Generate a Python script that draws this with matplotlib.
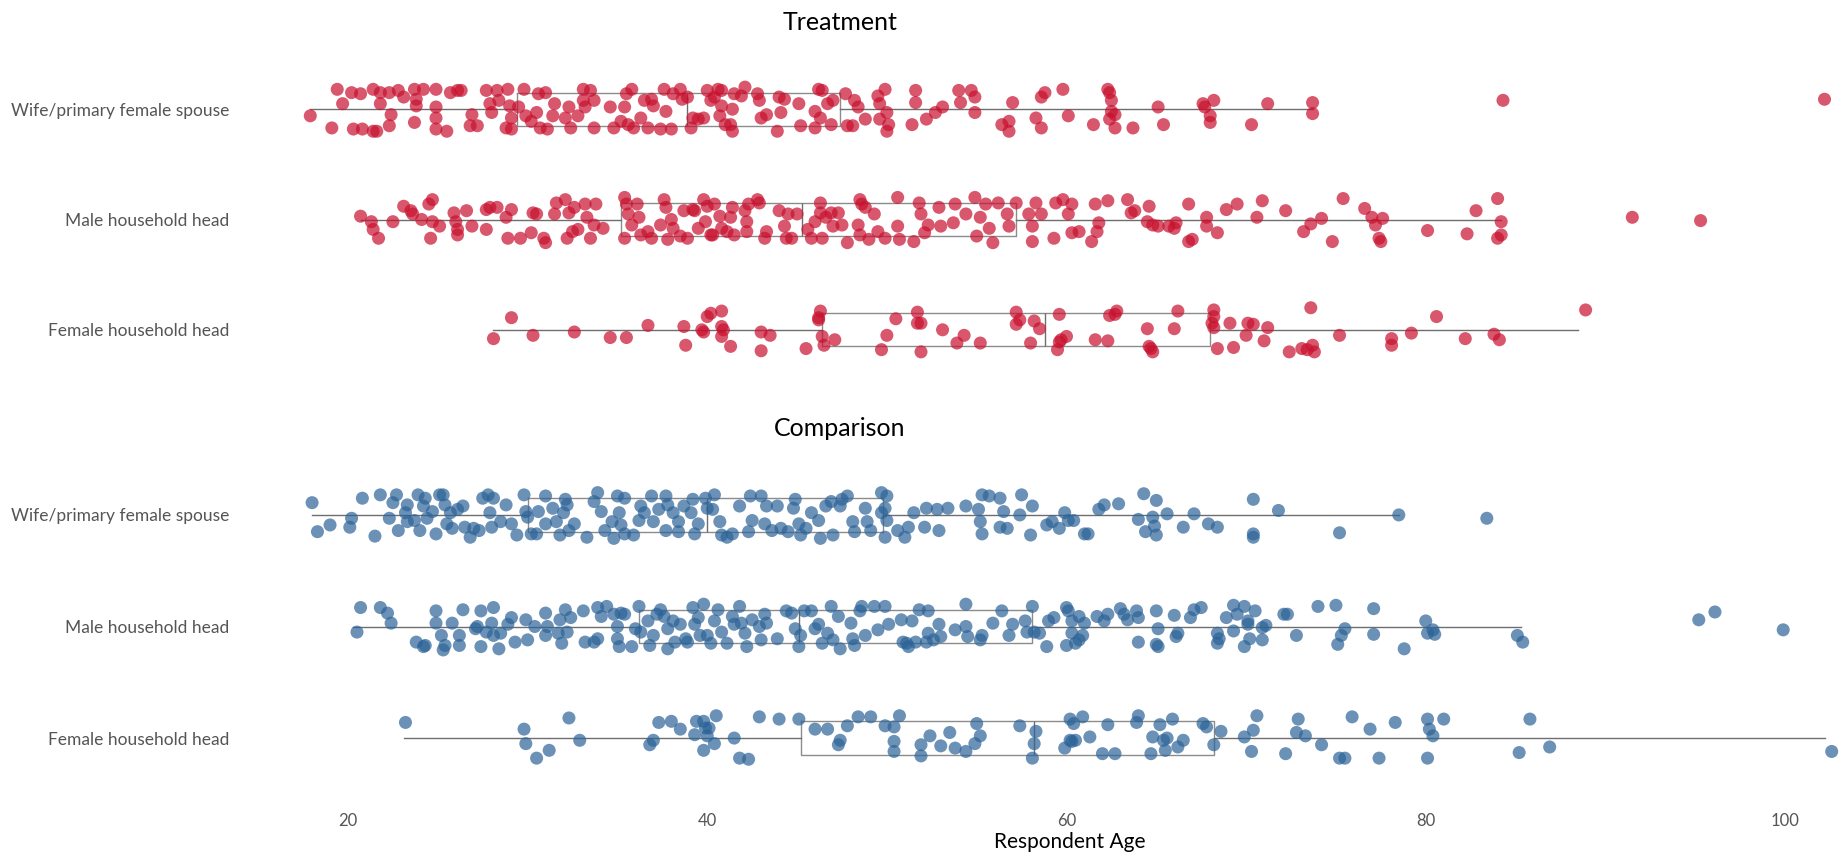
import numpy as np
import matplotlib.pyplot as plt

plt.rcParams['font.family'] = ['Lato', 'DejaVu Sans']

groups = ['Wife/primary female spouse', 'Male household head', 'Female household head']
panels = ['Treatment', 'Comparison']
colors = {'Treatment': '#C8102E', 'Comparison': '#2C6398'}

# (age, vertical jitter in row units)
treat_wife = [
    (17.9, .06), (19.4, -.18), (19.1, .17), (19.7, -.05), (20.2, -.15), (20.3, .18), (20.7, -.14), (20.8, .18),
    (21.4, -.18), (21.4, .20), (21.6, .20), (21.8, -.05), (21.8, -.15), (22.3, .15), (22.3, -.15), (22.4, .05),
    (22.8, -.17), (23.1, -.11), (23.7, -.18), (23.8, -.09), (23.7, .12), (23.8, -.03), (24.2, -.18), (24.9, -.18),
    (24.9, -.02), (24.9, .08), (24.9, .18), (25.5, .20), (25.7, -.15), (26.1, -.17), (26.3, -.17), (26.8, .15),
    (26.9, .05), (27.2, .15), (27.7, -.17), (27.9, -.05), (28.0, .03), (28.3, -.17), (28.4, -.08), (28.8, .17),
    (28.9, -.18), (29.0, -.03), (29.1, .08), (29.1, .18), (29.5, -.02), (29.8, -.18), (29.9, .06), (30.2, .11),
    (30.5, .03), (30.6, -.14), (30.7, .17), (31.0, -.15), (31.1, .18), (31.4, .06), (31.5, -.05), (32.1, .08),
    (32.3, -.02), (32.4, .17), (32.8, .06), (33.1, -.18), (33.1, -.08), (33.2, -.02), (33.5, -.17), (33.7, .17),
    (33.7, -.08), (34.6, -.02), (34.8, .17), (35.2, .11), (35.4, -.02), (35.5, -.14), (35.6, .14), (35.8, -.18),
    (35.9, .17), (36.3, .08), (36.5, -.08), (36.7, .17), (36.9, -.09), (37.0, -.03), (37.4, .18), (37.6, -.18),
    (37.7, .02), (38.0, .18), (38.1, -.14), (38.5, -.18), (38.6, -.09), (38.9, -.11), (39.1, .17), (39.2, .08),
    (39.5, .09), (39.8, .08), (40.0, -.17), (40.2, -.08), (40.4, -.11), (40.6, -.18), (40.8, -.17), (40.8, -.03),
    (40.7, .06), (41.0, .14), (41.3, .14), (41.4, .0), (41.5, -.14), (41.4, .20), (41.9, -.12), (42.1, -.20),
    (42.8, -.14), (42.9, -.08), (43.0, .08), (43.3, .05), (43.9, .20), (44.0, -.11), (44.1, .03), (44.3, -.09),
    (45.1, -.05), (45.2, .15), (46.0, .02), (46.2, -.18), (46.4, -.17), (46.3, .08), (46.0, .17), (46.7, -.05),
    (46.9, .14), (47.0, -.08), (47.7, -.14), (47.8, .15), (48.1, .15), (48.2, -.08), (48.4, -.02), (48.8, .09),
    (49.5, -.12), (49.6, -.05), (49.6, .09), (49.9, -.18), (50.0, .03), (50.1, .14), (50.0, .20), (51.4, .14),
    (51.6, -.17), (51.6, -.06), (52.2, .09), (52.7, .03), (53.1, -.02), (54.0, -.17), (54.1, -.06), (54.7, -.17),
    (54.9, -.11), (54.9, .03), (56.4, .14), (56.8, .11), (56.8, .20), (57.0, -.06), (58.3, .08), (58.6, -.11),
    (58.8, -.15), (58.6, .17), (59.8, -.18), (60.1, .06), (61.5, .14), (62.3, -.18), (62.4, -.15), (62.5, -.08),
    (62.5, .02), (62.7, .05), (62.4, .09), (62.7, .17), (63.7, .17), (65.1, -.02), (65.4, .14), (67.6, -.05),
    (67.7, -.02), (68.2, -.08), (68.0, .06), (68.0, .12), (70.3, .14), (71.2, -.05), (73.7, -.06), (73.7, .04),
    (84.3, -.08), (102.2, -.09)]

treat_male = [
    (20.7, -.03), (21.3, .02), (21.4, .09), (21.7, .17), (22.5, .02), (23.1, -.12), (23.5, -.08), (23.6, -.05),
    (24.1, .0), (24.5, -.14), (24.7, -.18), (24.6, .17), (24.7, .02), (25.1, .06), (25.9, -.06), (26.0, .02),
    (26.1, .09), (26.1, .14), (26.6, -.08), (26.9, .06), (27.7, -.09), (27.7, .09), (27.9, -.11), (28.3, -.11),
    (28.8, -.02), (28.9, .17), (29.1, -.09), (29.6, .17), (30.2, .12), (30.3, -.06), (30.5, -.05), (30.9, .17),
    (31.0, .21), (31.6, -.15), (31.5, -.05), (32.1, -.18), (32.2, .17), (32.3, -.06), (32.5, .11), (32.6, -.11),
    (32.8, .09), (33.2, -.14), (33.3, -.02), (33.5, .17), (33.8, -.14), (33.7, .05), (34.2, .08), (35.4, -.20),
    (35.4, .17), (35.5, -.14), (35.6, -.05), (35.8, .05), (36.1, -.14), (36.2, -.02), (36.3, .14), (36.7, .11),
    (36.9, .17), (37.4, .05), (37.6, -.18), (37.7, -.11), (37.8, .18), (38.0, .0), (38.1, .08), (38.5, .15),
    (38.7, -.08), (38.9, .17), (39.2, -.09), (39.3, -.08), (39.5, .08), (39.8, -.18), (39.9, .02), (40.0, -.12),
    (40.2, .14), (40.3, .14), (40.4, -.14), (40.7, -.03), (40.8, .08), (41.1, .11), (41.3, -.02), (41.4, -.11),
    (41.5, .14), (42.1, -.08), (42.2, .02), (42.2, .11), (42.3, -.14), (42.8, -.18), (42.9, -.15), (43.2, .17),
    (43.3, .11), (44.0, -.08), (44.3, .06), (44.4, .17), (44.5, -.05), (44.7, .17), (45.0, -.05), (45.6, .09),
    (45.8, .17), (46.0, .02), (46.3, -.15), (46.3, -.06), (46.4, .17), (46.6, -.02), (46.9, -.06), (47.0, .06),
    (47.3, -.06), (47.5, .05), (47.8, .21), (48.4, .05), (48.5, -.18), (48.5, .14), (48.6, -.14), (48.8, -.11),
    (49.0, .18), (49.3, -.05), (49.5, .11), (49.9, .17), (50.6, .06), (50.6, -.20), (50.7, .18), (51.5, .20),
    (51.8, -.15), (51.9, -.05), (52.1, .12), (52.3, .05), (52.9, -.11), (53.0, .06), (53.7, .03), (53.8, -.14),
    (54.4, -.05), (54.9, -.20), (55.0, .15), (55.2, -.02), (55.5, -.14), (55.9, .21), (55.7, .08), (56.2, -.15),
    (56.7, -.05), (56.8, .06), (57.2, -.15), (57.9, -.05), (58.1, .06), (58.1, .20), (58.3, -.15), (58.6, -.05),
    (59.4, -.15), (59.3, .17), (59.8, -.18), (60.1, -.05), (60.3, -.14), (60.3, .12), (60.7, .11), (61.4, .20),
    (61.6, -.14), (61.7, .11), (61.8, .03), (62.3, -.17), (63.4, -.18), (63.6, -.06), (63.8, -.08), (64.5, .02),
    (64.6, -.12), (64.8, .05), (65.1, .06), (65.7, .06), (66.1, .03), (66.0, .08), (66.8, -.14), (66.8, .20),
    (67.0, .18), (67.8, -.02), (67.8, .06), (68.4, .12), (68.9, -.09), (69.5, -.14), (70.6, -.02), (70.9, -.17),
    (72.2, -.08), (73.2, .11), (73.6, .04), (74.2, -.01), (74.8, .20), (75.4, -.19), (76.6, -.10), (77.0, -.02),
    (77.2, .05), (77.4, .17), (77.5, .20), (77.6, -.01), (80.1, .10), (82.3, .13), (82.8, -.08), (84.0, -.19),
    (84.2, .02), (84.0, .17), (84.2, .14), (91.5, -.02), (95.3, .01)]

treat_female = [
    (28.1, .08), (29.1, -.11), (30.3, .05), (32.6, .02), (34.6, .07), (35.5, .07), (36.7, -.04), (38.7, -.03),
    (38.8, .14), (39.7, .0), (39.8, .02), (40.0, -.12), (40.2, -.15), (40.8, -.17), (40.8, -.03), (40.9, .0),
    (40.8, .06), (41.3, .15), (43.0, .02), (43.0, .19), (43.5, .05), (45.5, .17), (46.3, -.17), (46.2, -.11),
    (46.2, -.09), (46.4, .06), (46.5, .14), (47.1, .09), (49.7, .18), (50.0, .05), (50.5, -.10), (51.7, -.16),
    (51.7, -.06), (51.9, -.06), (51.9, .20), (53.1, .0), (53.9, .12), (54.3, .05), (55.2, .12), (57.2, -.16),
    (57.2, -.05), (57.4, -.09), (58.0, .12), (58.2, -.08), (58.5, -.01), (59.5, .18), (59.6, -.14), (59.6, .11),
    (59.7, .09), (60.0, .06), (61.6, .09), (62.3, .10), (62.4, -.13), (62.7, -.14), (62.8, -.17), (64.5, -.01),
    (64.6, .15), (64.7, .17), (64.8, .20), (66.0, -.01), (66.2, -.17), (68.2, -.18), (68.2, -.12), (68.1, -.06),
    (68.2, -.02), (68.4, .17), (69.1, -.06), (69.3, .16), (70.0, .05), (70.1, -.06), (70.4, -.05), (71.0, .10),
    (71.2, -.02), (72.4, .20), (73.1, .17), (73.4, .18), (73.6, -.20), (73.7, .14), (73.8, .20), (75.2, .05),
    (78.1, .14), (78.1, .08), (79.2, .03), (80.6, -.12), (82.2, .08), (83.8, .04), (84.1, .09), (88.9, -.18)]

comp_wife = [
    (18.0, -.11), (18.3, .15), (19.0, .09), (20.1, .11), (20.2, .03), (20.8, -.15), (21.5, .19), (21.8, -.18),
    (22.3, .03), (22.5, -.11), (22.7, -.18), (22.8, .14), (23.3, -.09), (23.2, -.02), (23.3, .06), (23.7, .05),
    (23.9, -.18), (24.0, .14), (24.2, -.08), (24.3, -.15), (24.4, .03), (24.7, -.03), (24.9, .17), (25.1, -.18),
    (25.3, -.18), (25.4, -.09), (25.5, .08), (25.7, -.02), (25.8, .12), (26.1, -.05), (26.4, -.08), (26.5, .11),
    (26.8, .20), (27.0, .12), (27.3, .14), (27.5, -.15), (27.8, -.18), (27.9, -.02), (28.0, .11), (28.1, -.15),
    (28.5, .06), (28.8, -.09), (29.1, .08), (29.4, .18), (29.8, -.18), (29.9, -.03), (30.0, .02), (30.2, .17),
    (30.5, .17), (30.6, -.03), (31.0, .08), (31.0, -.17), (31.4, -.06), (31.6, .06), (31.8, .18), (32.0, -.02),
    (32.1, -.14), (32.2, -.09), (32.3, .14), (32.6, .08), (33.3, .20), (33.7, -.12), (33.9, -.20), (34.1, -.03),
    (34.3, .14), (34.7, .06), (34.8, .21), (35.0, -.17), (35.1, -.02), (35.2, .09), (35.4, .17), (35.4, -.15),
    (35.9, .18), (36.2, .05), (36.3, -.08), (36.5, -.02), (36.9, -.17), (37.0, .06), (37.3, -.05), (37.7, -.17),
    (37.7, .14), (37.8, -.09), (38.1, -.02), (38.4, .06), (38.4, .15), (38.7, -.08), (39.1, -.02), (39.2, -.14),
    (39.3, .17), (39.5, .08), (39.9, -.15), (40.0, -.06), (40.3, -.05), (40.4, -.18), (40.7, .06), (40.8, .18),
    (41.1, .20), (41.4, .17), (41.8, -.08), (42.3, .15), (42.4, -.17), (42.5, .05), (43.0, -.17), (43.2, .08),
    (43.3, -.08), (43.6, .14), (43.9, -.08), (44.1, .12), (44.5, .15), (44.8, -.06), (44.9, -.14), (45.1, .08),
    (45.2, .18), (45.5, .12), (45.8, -.02), (46.2, .05), (46.3, .21), (46.6, -.08), (46.9, -.12), (47.0, .18),
    (47.4, -.08), (47.5, -.14), (47.8, -.17), (48.1, .06), (48.2, .15), (48.8, -.06), (48.9, .06), (49.1, .14),
    (49.7, -.20), (49.9, -.06), (49.7, -.02), (49.9, .20), (50.0, -.17), (50.0, .05), (50.6, .14), (51.0, .20),
    (51.2, .11), (51.5, -.02), (52.2, -.06), (52.1, .11), (52.8, -.05), (52.9, .14), (53.4, -.06), (54.4, -.08),
    (55.1, -.05), (55.3, -.18), (55.2, .06), (55.3, .17), (55.7, -.17), (56.3, -.15), (56.3, .11), (56.5, -.03),
    (56.7, .12), (57.4, .0), (57.5, -.18), (58.1, -.08), (58.0, .18), (58.9, .09), (59.2, .06), (59.6, .12),
    (59.9, -.02), (60.1, .05), (60.4, .05), (61.0, .17), (61.2, .17), (61.8, -.05), (62.1, -.09), (62.9, -.10),
    (64.0, .04), (64.3, -.19), (64.4, .15), (64.8, .02), (64.9, .10), (65.0, -.13), (65.0, .18), (65.6, -.01),
    (66.5, .11), (67.1, -.01), (67.9, .08), (68.4, .11), (70.4, -.14), (70.4, .17), (70.4, .20), (71.8, -.04),
    (75.2, .16), (78.5, .0), (83.4, .03)]

comp_male = [
    (20.5, .05), (20.7, -.17), (21.8, -.17), (22.2, -.12), (22.4, -.03), (23.8, .14), (24.2, .18), (24.3, .17),
    (24.9, -.14), (24.9, -.03), (25.2, .08), (25.3, .21), (25.4, .17), (25.8, -.03), (26.2, .08), (26.2, .17),
    (26.4, -.15), (27.1, .02), (27.2, .0), (27.4, -.14), (27.4, .18), (27.7, .05), (28.0, -.03), (28.1, .08),
    (28.1, -.17), (28.4, .20), (28.5, .06), (28.9, -.02), (29.1, -.08), (29.3, .14), (29.9, -.06), (30.0, .12),
    (30.4, .0), (31.0, -.12), (31.0, .08), (31.1, .0), (31.7, .06), (31.8, -.06), (31.9, .15), (32.1, -.15),
    (32.2, .05), (32.4, -.08), (33.1, -.14), (33.2, .14), (33.7, .14), (33.9, -.17), (33.9, .11), (34.1, -.09),
    (34.4, -.18), (34.8, -.11), (35.0, .0), (35.0, .11), (35.1, .18), (35.2, -.12), (35.4, -.11), (35.8, .18),
    (36.0, .02), (36.2, -.18), (36.3, .05), (36.7, -.05), (36.8, .17), (37.0, .08), (37.2, -.11), (37.4, -.15),
    (37.6, -.09), (37.8, .02), (37.8, .20), (38.1, -.05), (38.2, .14), (38.5, -.02), (38.8, .11), (38.9, .14),
    (39.2, -.17), (39.3, -.02), (39.5, -.08), (39.6, .08), (39.8, -.20), (40.0, .08), (40.2, .15), (40.4, -.05),
    (40.6, -.15), (40.8, .05), (41.1, .15), (41.4, -.09), (41.5, -.02), (41.8, -.18), (41.9, -.03), (42.1, .06),
    (42.2, .18), (42.5, -.06), (42.9, .0), (43.0, .12), (43.2, -.11), (43.3, -.03), (43.9, .11), (44.4, -.14),
    (44.7, -.12), (44.9, .02), (45.1, .18), (45.2, .08), (45.4, -.14), (45.8, -.14), (46.0, .02), (46.2, -.02),
    (46.4, .15), (46.7, .06), (46.9, -.18), (47.0, .12), (47.3, -.09), (47.4, .20), (48.0, -.03), (48.1, .11),
    (48.2, .17), (48.5, -.14), (48.6, -.18), (48.8, .08), (49.3, -.18), (49.5, .03), (49.9, -.18), (50.1, -.02),
    (50.8, -.06), (50.9, .14), (51.1, .15), (51.2, .18), (51.4, -.05), (51.6, .14), (51.8, -.15), (52.2, .14),
    (52.3, -.14), (52.3, .06), (52.6, .12), (52.9, -.02), (53.0, .09), (53.8, .03), (54.4, -.20), (54.4, .0),
    (54.5, .09), (55.2, .12), (55.3, .08), (55.9, -.03), (56.4, -.14), (56.8, .08), (57.0, -.02), (57.7, -.05),
    (57.8, .05), (58.1, -.18), (58.2, .05), (58.5, .06), (58.9, .18), (59.0, -.05), (59.3, -.08), (60.0, -.17),
    (60.0, .17), (60.1, -.14), (60.3, -.05), (60.3, .06), (60.5, .15), (60.7, -.09), (60.9, .08), (61.0, -.03),
    (60.7, .12), (61.7, -.09), (62.1, -.05), (62.3, -.11), (63.0, -.16), (63.2, -.11), (63.4, -.06), (63.9, -.14),
    (64.0, -.08), (64.0, .14), (65.0, -.14), (65.1, .02), (65.0, .16), (65.1, .18), (66.0, -.10), (66.1, .09),
    (66.2, .06), (66.9, -.08), (67.1, -.15), (67.5, -.17), (68.4, .06), (68.4, .15), (68.5, .11), (68.9, -.08),
    (69.3, -.19), (69.3, .04), (69.5, -.11), (69.9, -.18), (69.9, .18), (70.1, -.05), (70.1, -.02), (70.2, .11),
    (70.5, -.14), (70.9, .12), (70.9, .01), (71.1, -.01), (72.1, -.11), (72.3, -.11), (72.8, .08), (74.0, -.18),
    (75.0, -.19), (75.1, .16), (75.3, .08), (75.5, .02), (77.1, -.16), (77.1, .07), (78.8, .20), (80.0, -.05),
    (80.1, .06), (80.4, .03), (80.5, .07), (85.1, .08), (85.4, .14), (95.2, -.06), (96.1, -.13), (99.9, .03)]

comp_female = [
    (23.2, -.14), (29.8, -.08), (29.9, .05), (30.5, .18), (31.2, .11), (32.3, -.18), (32.9, .02), (36.8, .06),
    (37.0, .02), (37.3, -.14), (38.0, -.15), (38.5, -.08), (39.3, -.03), (39.4, -.15), (39.8, -.15), (39.8, .11),
    (39.9, -.09), (40.1, -.09), (40.0, -.02), (40.4, .05), (40.5, -.20), (41.5, .0), (41.8, .18), (42.3, .19),
    (42.9, -.19), (44.0, -.17), (45.1, -.17), (46.0, -.08), (46.7, -.08), (47.3, .06), (47.4, .02), (47.8, -.11),
    (48.4, -.19), (49.1, -.19), (49.9, -.11), (50.4, .03), (50.4, -.10), (50.4, .12), (50.7, -.20), (51.9, .06),
    (51.9, .16), (52.4, -.02), (53.0, .07), (53.5, -.05), (53.8, .09), (54.4, .12), (54.9, .05), (55.2, -.02),
    (55.0, -.13), (57.4, -.11), (58.2, .05), (58.3, -.06), (58.1, .18), (59.9, .09), (60.2, -.17), (60.2, .02),
    (60.4, -.13), (60.3, .03), (60.5, .02), (60.9, -.19), (61.3, -.01), (62.0, .14), (62.3, -.12), (62.7, .14),
    (63.9, -.14), (64.0, -.20), (64.8, -.01), (64.7, .14), (65.2, -.12), (65.4, .02), (65.6, .0), (65.5, .11),
    (65.9, -.17), (66.2, .08), (66.5, .02), (67.6, -.13), (67.8, -.10), (68.2, .06), (68.6, -.06), (69.9, -.01),
    (70.3, .12), (70.4, -.07), (70.6, -.20), (72.2, .14), (72.8, -.05), (72.9, -.17), (73.3, -.02), (74.2, .06),
    (75.2, .18), (75.5, .18), (75.9, -.19), (76.9, -.08), (77.4, .18), (78.3, -.14), (80.1, -.17), (80.1, .18),
    (80.2, -.08), (80.4, -.02), (81.0, -.17), (85.2, .13), (85.8, -.17), (86.9, .08), (102.6, .12)]

# box summaries: whisker low, Q1, median, Q3, whisker high
box_lo = {'Treatment': [17.9, 20.7, 28.1], 'Comparison': [18.0, 20.3, 23.1]}
box_q1 = {'Treatment': [29.4, 35.2, 46.4], 'Comparison': [30.0, 36.2, 45.2]}
box_med = {'Treatment': [38.9, 45.3, 58.8], 'Comparison': [40.0, 45.1, 58.2]}
box_q3 = {'Treatment': [47.4, 57.2, 68.0], 'Comparison': [49.8, 58.1, 68.2]}
box_hi = {'Treatment': [73.7, 84.2, 88.5], 'Comparison': [78.5, 85.3, 102.2]}

data = {'Treatment': [treat_wife, treat_male, treat_female],
        'Comparison': [comp_wife, comp_male, comp_female]}

W, H = 1839, 859
fig = plt.figure(figsize=(W / 100, H / 100), dpi=100)

# x scale: 20 sits at px 348, 100 at px 1785
ppy = (1785 - 348) / 80
left = 240
xlo = 20 - (348 - left) / ppy
xhi = 20 + (W - 348) / ppy

panel_px = {'Treatment': (43, 396), 'Comparison': (448, 805)}
title_y = {'Treatment': 23, 'Comparison': 429}

for p in panels:
    top, bot = panel_px[p]
    ax = fig.add_axes([left / W, 1 - bot / H, 1 - left / W, (bot - top) / H])

    stats = [dict(whislo=box_lo[p][i], q1=box_q1[p][i], med=box_med[p][i],
                  q3=box_q3[p][i], whishi=box_hi[p][i], fliers=[]) for i in range(3)]
    ax.bxp(stats, positions=[0, 1, 2], widths=0.3, orientation='horizontal',
           showfliers=False, showcaps=False,
           boxprops=dict(color='#8c8c8c', lw=1),
           whiskerprops=dict(color='#6e6e6e', lw=1),
           medianprops=dict(color='#6e6e6e', lw=1), zorder=1)

    for i, rows in enumerate(data[p]):
        ages = np.array([a for a, _ in rows])
        jit = np.array([j for _, j in rows])
        ax.scatter(ages, i + jit, s=88, color=colors[p], alpha=0.7,
                   edgecolors='none', zorder=3)

    ax.set_xlim(xlo, xhi)
    ax.set_ylim(2.6, -0.6)
    ax.set_yticks([0, 1, 2], groups)
    ax.tick_params(axis='y', length=0, pad=8, labelsize=12.5, labelcolor='#555555')
    for s in ax.spines.values():
        s.set_visible(False)
    if p == 'Comparison':
        ax.set_xticks([20, 40, 60, 80, 100])
        ax.tick_params(axis='x', length=0, pad=6, labelsize=12, labelcolor='#555555')
    else:
        ax.set_xticks([])

    fig.text(840 / W, 1 - title_y[p] / H, p, ha='center', va='center', fontsize=18, color='black')

fig.text(1070 / W, 1 - 842 / H, 'Respondent Age', ha='center', va='center', fontsize=15, color='black')

fig.savefig('out.png', dpi=100, facecolor='white')
